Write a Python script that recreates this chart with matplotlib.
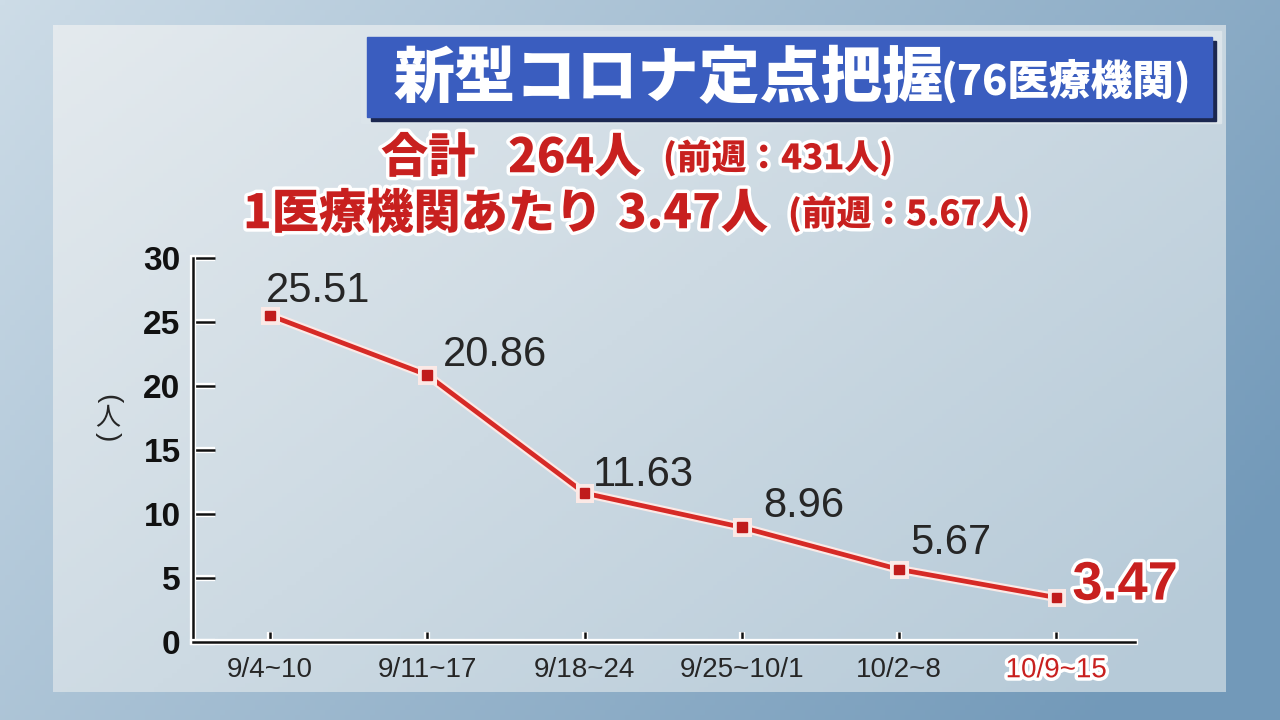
import numpy as np
import matplotlib
matplotlib.use('Agg')
import matplotlib.pyplot as plt
import matplotlib.patheffects as pe
from matplotlib.patches import Rectangle

weeks = ['9/4~10', '9/11~17', '9/18~24', '9/25~10/1', '10/2~8', '10/9~15']
per_inst = [25.51, 20.86, 11.63, 8.96, 5.67, 3.47]
yticks = [0, 5, 10, 15, 20, 25, 30]

title_main = '新型コロナ定点把握'
title_sub = '(76医療機関)'
line1 = ['合計', '264人', '(前週：431人)']
line2 = ['1医療機関あたり', '3.47人', '(前週：5.67人)']

# label offsets in pixels (dx, dy up)
lab_off = [(-4, 13), (16, 9), (8, 7), (21, 10), (11, 15), (16, -2)]

JP = ['Noto Sans CJK JP', 'DejaVu Sans']
NUM = ['Liberation Sans', 'DejaVu Sans']

RED = '#c8201f'
LINE_RED = '#d62a26'
DARK = '#262626'
white_halo = [pe.withStroke(linewidth=5, foreground='white')]

fig = plt.figure(figsize=(12.8, 7.2), dpi=100)

# background
bg = fig.add_axes([0, 0, 1, 1], zorder=-5)
bg.axis('off')
gx = np.linspace(0, 1, 256)
gy = np.linspace(0, 1, 144)
GX, GY = np.meshgrid(gx, gy)
t = np.clip(0.75 * GX + 0.35 * GY, 0, 1)[..., None]
c0 = np.array([0xcd, 0xdc, 0xe7]) / 255
c1 = np.array([0x72, 0x99, 0xb9]) / 255
bg.imshow(c0 + (c1 - c0) * t, extent=[0, 1280, 720, 0], aspect='auto', zorder=0)
# inner panel
p0 = np.array([0xe4, 0xea, 0xee]) / 255
p1 = np.array([0xb6, 0xca, 0xd8]) / 255
tp = np.clip(0.6 * GX + 0.45 * GY, 0, 1)[..., None]
bg.imshow(p0 + (p1 - p0) * tp, extent=[53, 1226, 692, 25], aspect='auto', zorder=1)
bg.set_xlim(0, 1280)
bg.set_ylim(720, 0)

# title box
bg.add_patch(Rectangle((361, 31), 860, 92, color='#dbe4ea', zorder=2))
bg.add_patch(Rectangle((371, 41), 845, 80, color='#1b2750', zorder=3))
bg.add_patch(Rectangle((367, 37), 845, 80, color='#3a5dbf', zorder=4))
bg.text(393, 79, title_main, family=JP, weight=900, fontsize=44,
        color='white', va='center', ha='left', zorder=5)
bg.text(941, 81, title_sub, family=JP, weight=900, fontsize=30,
        color='white', va='center', ha='left', zorder=5)

# headline lines
sizes = [34, 34, 25]
for txt, x, fs in zip(line1, [381, 508, 663], sizes):
    bg.text(x, 158, txt, family=JP, weight=900, fontsize=fs, color=RED,
            va='center', ha='left', zorder=5, path_effects=white_halo)
for txt, x, fs in zip(line2, [243, 618, 788], sizes):
    bg.text(x, 214, txt, family=JP, weight=900, fontsize=fs, color=RED,
            va='center', ha='left', zorder=5, path_effects=white_halo)

# y label (vertical writing)
bg.text(108, 399, '(', family=NUM, fontsize=20, color=DARK, rotation=-90,
        ha='center', va='center', zorder=5)
bg.text(108, 418, '人', family=JP, fontsize=18, color=DARK,
        ha='center', va='center', zorder=5)
bg.text(108, 437, ')', family=NUM, fontsize=20, color=DARK, rotation=-90,
        ha='center', va='center', zorder=5)

# main chart
ax = fig.add_axes([193 / 1280, 78 / 720, (1135 - 193) / 1280, (642 - 258) / 720])
ax.patch.set_visible(False)
x = np.arange(len(weeks))
ax.plot(x, per_inst, color=LINE_RED, lw=3.4, marker='s', ms=7,
        mfc='#c01b1b', mec='#c01b1b', solid_joinstyle='miter', zorder=3,
        path_effects=[pe.Stroke(linewidth=6.5, foreground='#fbe9e6'), pe.Normal()])
ax.set_xlim(-0.49, 5.5)
ax.set_ylim(0, 30)
ax.set_yticks(yticks)
ax.set_xticks(x)
ax.set_xticklabels(weeks)
for s in ['top', 'right']:
    ax.spines[s].set_visible(False)
for s in ['left', 'bottom']:
    ax.spines[s].set_linewidth(1.8)
    ax.spines[s].set_color('#111111')
    ax.spines[s].set_path_effects([pe.Stroke(linewidth=4.5, foreground='white'), pe.Normal()])
ax.tick_params(axis='y', direction='in', length=16, width=1.8, pad=9, colors='#111111')
ax.tick_params(axis='x', direction='in', length=7, width=1.8, pad=11, colors='#111111')
for lab in ax.get_yticklabels():
    lab.set_fontfamily(NUM)
    lab.set_fontweight('bold')
    lab.set_fontsize(24)
for lab in ax.get_xticklabels():
    lab.set_fontfamily(NUM)
    lab.set_fontsize(20)
    lab.set_color(DARK)
xl = ax.get_xticklabels()[-1]
xl.set_color(RED)
xl.set_path_effects(white_halo)
for tk in ax.yaxis.get_major_ticks() + ax.xaxis.get_major_ticks():
    tk.tick1line.set_path_effects([pe.Stroke(linewidth=4.5, foreground='white'), pe.Normal()])

for i, (v, (dx, dy)) in enumerate(zip(per_inst, lab_off)):
    last = i == len(per_inst) - 1
    ax.annotate(f'{v:.2f}', (x[i], v), xytext=(dx * 0.72, dy * 0.72),
                textcoords='offset points', ha='left', va='baseline',
                family=NUM, fontsize=39 if last else 30,
                weight='bold' if last else 'normal',
                color=RED if last else DARK,
                path_effects=white_halo if last else None, zorder=4)

fig.savefig('out.png', dpi=100)
